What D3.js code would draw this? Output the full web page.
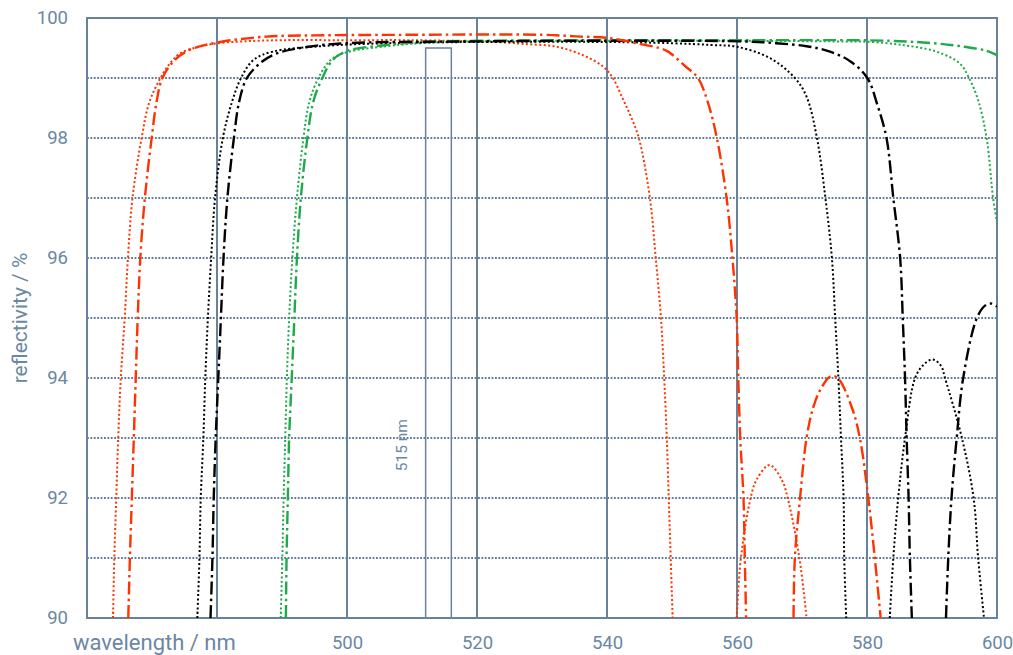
<!DOCTYPE html>
<html>
<head>
<meta charset="utf-8">
<script src="https://cdn.jsdelivr.net/npm/d3@7"></script>
<style>
  html, body { margin: 0; padding: 0; background: #fff; }
  svg { display: block; font-family: Roboto, "Open Sans", sans-serif; }
</style>
</head>
<body>
<div id="chart"></div>
<script>
// wavelength (nm), reflectivity (%) ; null splits a curve where it leaves the plot
const redDotted = [
  [464.0, 90], [464.2, 91], [464.5, 92], [464.8, 93], [465.2, 94], [465.8, 95], [466.3, 96],
  [467.0, 97], [468.4, 98], [469.6, 98.6], [471.3, 99], [472.8, 99.25], [474.3, 99.41],
  [476.5, 99.5], [479.4, 99.57], [484, 99.61], [490, 99.63], [500, 99.63], [510, 99.63],
  [520, 99.61], [523, 99.6], [527, 99.57], [532.3, 99.52], [536.3, 99.38], [539.4, 99.19],
  [540.9, 99.0], [542.4, 98.66], [543.7, 98.35], [544.9, 98], [546.6, 97], [547.5, 96],
  [548.3, 95], [548.8, 94], [549.2, 93], [549.5, 92], [549.8, 91], [550.1, 90],
  null,
  [559.95, 90], [560.6, 91], [562.1, 92], [563.0, 92.3], [565.0, 92.55], [566.9, 92.3],
  [567.8, 92], [569.6, 91], [570.7, 90]
];
const redDashDot = [
  [466.35, 90], [466.6, 91], [466.9, 92], [467.2, 93], [467.5, 94], [467.8, 95], [468.2, 96],
  [468.9, 97], [469.95, 98], [470.7, 98.6], [471.6, 99], [473.5, 99.3], [475.8, 99.47],
  [480.5, 99.6], [487.6, 99.69], [495, 99.71], [510, 99.72], [530, 99.72], [536, 99.69],
  [540, 99.67], [545, 99.57], [548, 99.5], [549.4, 99.44], [552, 99.2], [554.0, 99],
  [555.5, 98.6], [556.9, 98], [558.4, 97], [559.3, 96], [559.95, 95], [560.2, 94],
  [560.5, 93], [561.0, 92], [561.2, 91], [561.4, 90],
  null,
  [568.7, 90], [568.9, 91], [569.7, 92], [570.7, 93], [571.7, 93.5], [572.8, 93.8],
  [574.4, 94.03], [575.5, 94.0], [577.7, 93.5], [578.9, 93], [580.2, 92], [581.2, 91], [582.1, 90]
];
const blackDotted = [
  [476.97, 90], [477.3, 91], [477.5, 92], [477.9, 93], [478.2, 94], [478.6, 95], [479.1, 96],
  [479.7, 97], [480.9, 98], [482.3, 98.6], [483.7, 99], [485.6, 99.3], [488.6, 99.44],
  [495.9, 99.53], [506.2, 99.58], [520, 99.6], [540, 99.6], [550, 99.58], [556, 99.55],
  [560, 99.52], [565.1, 99.33], [568.9, 99.0], [570.7, 98.69], [572.3, 98], [573.6, 97],
  [574.6, 96], [575.1, 95], [575.6, 94], [576.0, 93], [576.4, 92], [576.5, 91], [576.8, 90],
  null,
  [583.5, 90], [584.05, 91], [584.8, 92], [585.85, 93], [587.4, 94], [588.7, 94.22],
  [590.1, 94.31], [591.4, 94.2], [592.0, 94], [594.6, 93], [596.4, 92], [597.1, 91], [598.0, 90]
];
const blackDashDot = [
  [479.0, 90], [479.3, 91], [479.5, 92], [479.8, 93], [480.2, 94], [480.6, 95], [481.0, 96],
  [481.6, 97], [482.6, 98], [483.4, 98.6], [484.6, 99], [486.9, 99.27], [489.2, 99.41],
  [494, 99.52], [500, 99.58], [520, 99.61], [540, 99.62], [560.5, 99.61], [566, 99.58],
  [570.7, 99.53], [574.3, 99.44], [577.4, 99.28], [580.05, 99], [581.6, 98.55], [583.0, 98],
  [584.05, 97], [585.1, 96], [585.5, 95], [585.85, 94], [586.1, 93], [586.4, 92],
  [586.6, 91], [586.9, 90],
  null,
  [592.15, 90], [592.5, 91], [593.0, 92], [593.8, 93], [594.8, 94], [596.9, 95],
  [598.2, 95.21], [599.2, 95.24], [600, 95.19]
];
const greenDotted = [
  [489.8, 90], [490.05, 91], [490.25, 92], [490.5, 93], [490.75, 94], [491.1, 95], [491.6, 96],
  [492.3, 97], [493.3, 98], [494.2, 98.6], [495.6, 99], [497.5, 99.3], [500, 99.43],
  [506.2, 99.53], [511.2, 99.58], [520, 99.61], [540, 99.62], [560, 99.62], [575, 99.61],
  [580.9, 99.6], [586.1, 99.54], [590.7, 99.44], [594.3, 99.24], [595.7, 99], [597.1, 98.63],
  [598.4, 98], [599.4, 97], [600, 96.6]
];
const greenDashDot = [
  [490.6, 90], [490.7, 91], [490.9, 92], [491.1, 93], [491.5, 94], [491.9, 95], [492.3, 96],
  [492.9, 97], [493.9, 98], [494.8, 98.6], [496.2, 99], [497.8, 99.3], [500, 99.45],
  [506, 99.55], [512, 99.6], [520, 99.62], [540, 99.63], [560, 99.63], [583.5, 99.62],
  [591.2, 99.57], [595, 99.52], [598.2, 99.46], [600, 99.38]
];

const xTicks = [500, 520, 540, 560, 580, 600];
const yTicks = [90, 92, 94, 96, 98, 100];
const vLines = [480, 500, 520, 540, 560, 580];
const hLines = [91, 92, 93, 94, 95, 96, 97, 98, 99];
const laserBand = { from: 512.1, to: 516.05, top: 99.5, label: "515 nm" };

const W = 1013, H = 655;
const m = { left: 87, right: 16, top: 18, bottom: 37 };
const axisCol = "#6a8299";
const textCol = "#6a87a3";
const red = "#ff3300", green = "#1faa4a", black = "#000";

const svg = d3.select("#chart").append("svg")
  .attr("width", W).attr("height", H);

const x = d3.scaleLinear().domain([460, 600]).range([m.left, W - m.right]);
const y = d3.scaleLinear().domain([90, 100]).range([H - m.bottom, m.top]);

svg.append("clipPath").attr("id", "plot")
  .append("rect")
  .attr("x", x(460)).attr("y", y(100))
  .attr("width", x(600) - x(460)).attr("height", y(90) - y(100));

// dotted horizontal grid
svg.append("g").selectAll("line")
  .data(hLines).enter().append("line")
  .attr("x1", x(460)).attr("x2", x(600))
  .attr("y1", d => y(d)).attr("y2", d => y(d))
  .attr("stroke", "#5f7b96")
  .attr("stroke-width", 1.8)
  .attr("stroke-dasharray", "1.8,1.6");

// solid vertical grid
svg.append("g").selectAll("line")
  .data(vLines).enter().append("line")
  .attr("x1", d => x(d)).attr("x2", d => x(d))
  .attr("y1", y(90)).attr("y2", y(100))
  .attr("stroke", axisCol)
  .attr("stroke-width", 2);

// laser line marker
svg.append("rect")
  .attr("x", x(laserBand.from)).attr("y", y(laserBand.top))
  .attr("width", x(laserBand.to) - x(laserBand.from))
  .attr("height", y(90) - y(laserBand.top))
  .attr("fill", "none")
  .attr("stroke", axisCol)
  .attr("stroke-width", 1.5);

svg.append("text")
  .attr("transform", `translate(${x(laserBand.from) - 19},${y(92.88)}) rotate(-90)`)
  .attr("text-anchor", "middle")
  .attr("fill", textCol)
  .attr("font-size", 15.5)
  .text(laserBand.label);

// frame
svg.append("rect")
  .attr("x", x(460)).attr("y", y(100))
  .attr("width", x(600) - x(460)).attr("height", y(90) - y(100))
  .attr("fill", "none")
  .attr("stroke", axisCol)
  .attr("stroke-width", 2);

const line = d3.line()
  .defined(d => d !== null)
  .x(d => x(d[0])).y(d => y(d[1]))
  .curve(d3.curveCatmullRom.alpha(0.5));

const series = [
  { data: redDotted, color: red, width: 2, dash: "2,2.4" },
  { data: greenDotted, color: green, width: 2, dash: "2,2.4" },
  { data: blackDotted, color: black, width: 2, dash: "2,2.4" },
  { data: greenDashDot, color: green, width: 2.4, dash: "13,4,2.5,4" },
  { data: blackDashDot, color: black, width: 2.4, dash: "13,4,2.5,4" },
  { data: redDashDot, color: red, width: 2.4, dash: "13,4,2.5,4" }
];

svg.append("g").attr("clip-path", "url(#plot)")
  .selectAll("path")
  .data(series).enter().append("path")
  .attr("d", d => line(d.data))
  .attr("fill", "none")
  .attr("stroke", d => d.color)
  .attr("stroke-width", d => d.width)
  .attr("stroke-dasharray", d => d.dash);

// axes
const xAxis = svg.append("g")
  .attr("transform", `translate(0,${y(90)})`)
  .call(d3.axisBottom(x).tickValues(xTicks).tickSize(0).tickPadding(18));
const yAxis = svg.append("g")
  .attr("transform", `translate(${x(460)},0)`)
  .call(d3.axisLeft(y).tickValues(yTicks).tickSize(0).tickPadding(19));

[xAxis, yAxis].forEach(a => {
  a.select(".domain").remove();
  a.selectAll("text")
    .attr("fill", textCol)
    .attr("font-size", 18.5)
    .attr("font-family", "Roboto, 'Open Sans', sans-serif");
});

svg.append("text")
  .attr("x", 73).attr("y", 650)
  .attr("fill", textCol)
  .attr("font-size", 22)
  .text("wavelength / nm");

svg.append("text")
  .attr("transform", `translate(27,${y(95.0)}) rotate(-90)`)
  .attr("text-anchor", "middle")
  .attr("fill", textCol)
  .attr("font-size", 21)
  .text("reflectivity / %");
</script>
</body>
</html>
